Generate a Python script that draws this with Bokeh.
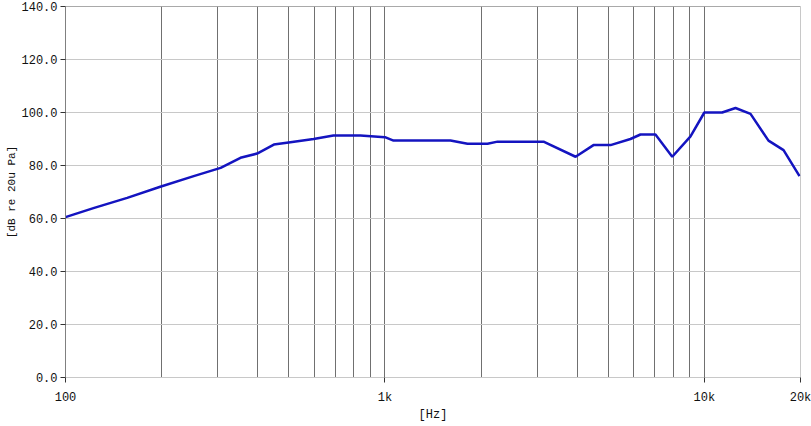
from bokeh.plotting import figure
from bokeh.models import FixedTicker, PrintfTickFormatter, Span, Range1d
from bokeh.embed import file_html
from bokeh.resources import INLINE

# Frequency response data
freq_hz = [100, 123, 156, 198, 252, 306, 353, 398, 449, 506, 598, 690, 838,
           1000, 1064, 1604, 1814, 2095, 2252, 3137, 3953, 4497, 5085, 5871,
           6310, 7030, 7934, 9051, 10000, 11370, 12520, 13950, 15880, 17700, 19860]
level_db = [60.5, 64.0, 67.8, 72.0, 76.0, 79.1, 82.9, 84.5, 87.9, 88.8, 90.0, 91.3, 91.3,
            90.7, 89.4, 89.4, 88.2, 88.2, 89.0, 89.0, 83.3, 87.7, 87.7, 90.0,
            91.7, 91.7, 83.3, 91.0, 100.0, 100.0, 101.7, 99.5, 89.4, 85.8, 76.0]

y_ticks = [0, 20, 40, 60, 80, 100, 120, 140]
x_ticks = [100, 1000, 10000, 20000]
x_tick_labels = {100: "100", 1000: "1k", 10000: "10k", 20000: "20k"}
x_grid_ticks = [200, 300, 400, 500, 600, 700, 800, 900, 1000,
                2000, 3000, 4000, 5000, 6000, 7000, 8000, 9000, 10000]

FONT = "Liberation Mono"

p = figure(width=811, height=424, x_axis_type="log",
           x_range=Range1d(100, 20000), y_range=Range1d(0, 140),
           output_backend="svg", toolbar_location=None,
           min_border_left=65, min_border_right=11, min_border_top=6, min_border_bottom=46)

p.background_fill_color = "white"
p.border_fill_color = "white"
p.outline_line_color = "#c8c8c8"

# grids
p.xgrid.ticker = FixedTicker(ticks=x_grid_ticks)
p.xgrid.grid_line_color = "#707070"
p.xgrid.grid_line_width = 1
p.ygrid.ticker = FixedTicker(ticks=y_ticks)
p.ygrid.grid_line_color = "#c8c8c8"
p.ygrid.grid_line_width = 1

p.add_layout(Span(location=140, dimension="width", line_color="#8a8a8a", line_width=1))

# x axis
xa = p.xaxis[0]
xa.ticker = FixedTicker(ticks=x_ticks)
xa.major_label_overrides = x_tick_labels
xa.axis_line_color = "#c8c8c8"
xa.major_tick_line_color = "#333333"
xa.major_tick_in = 0
xa.major_tick_out = 5
xa.minor_tick_line_color = None
xa.major_label_standoff = 8
xa.major_label_text_font = FONT
xa.major_label_text_font_size = "12px"
xa.major_label_text_color = "#111111"
xa.axis_label = "[Hz]"
xa.axis_label_text_font = FONT
xa.axis_label_text_font_size = "12px"
xa.axis_label_text_font_style = "normal"
xa.axis_label_text_color = "#111111"
xa.axis_label_standoff = 0

# y axis
ya = p.yaxis[0]
ya.ticker = FixedTicker(ticks=y_ticks)
ya.formatter = PrintfTickFormatter(format="%.1f")
ya.axis_line_color = "#808080"
ya.major_tick_line_color = "#333333"
ya.major_tick_in = 0
ya.major_tick_out = 5
ya.minor_tick_line_color = None
ya.major_label_standoff = 3
ya.major_label_text_font = FONT
ya.major_label_text_font_size = "12px"
ya.major_label_text_color = "#111111"
ya.axis_label = "[dB re 20u Pa]"
ya.axis_label_text_font = FONT
ya.axis_label_text_font_size = "11px"
ya.axis_label_text_font_style = "normal"
ya.axis_label_text_color = "#111111"
ya.axis_label_standoff = 0

p.line(freq_hz, level_db, line_color="#1414c0", line_width=2.5)

open("out.html", "w").write(file_html(p, INLINE))
